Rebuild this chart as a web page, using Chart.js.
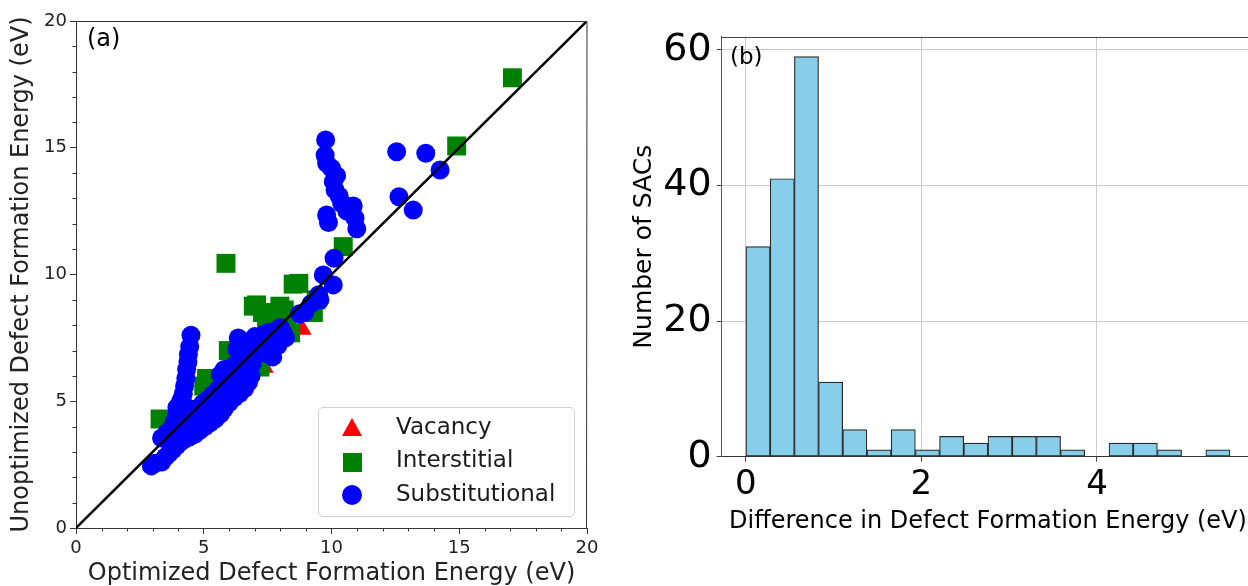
<!DOCTYPE html>
<html>
<head>
<meta charset="utf-8">
<script src="https://cdn.jsdelivr.net/npm/chart.js@4.4.1/dist/chart.umd.min.js"></script>
<style>
	html, body { margin: 0; padding: 0; background: #fff; overflow: hidden; width: 1248px; height: 586px; }
	#contenidor { position: relative; width: 1248px; height: 586px; overflow: hidden; }
	#graficA { position: absolute; left: 0; top: 0; }
	#graficB { position: absolute; left: 620px; top: 0; }
	.etiqueta { position: absolute; font-family: "DejaVu Sans", sans-serif; color: #000; line-height: 1; white-space: nowrap; }
	#llegenda { position: absolute; left: 318px; top: 407px; width: 257px; height: 110px; box-sizing: border-box;
		border: 1px solid #d0d0d0; border-radius: 5px; background: rgba(255,255,255,0.85);
		font-family: "DejaVu Sans", sans-serif; font-size: 23px; color: #1a1a1a; }
	#llegenda .text { position: absolute; left: 77px; line-height: 28px; height: 28px; white-space: nowrap; }
	#llegenda .marca { position: absolute; }
	.tri { width: 0; height: 0; border-left: 10px solid transparent; border-right: 10px solid transparent; border-bottom: 18px solid #ff0000; }
	.qua { width: 19px; height: 19px; background: #008000; }
	.cer { width: 20px; height: 20px; border-radius: 50%; background: #0000ff; }
</style>
</head>
<body>
<div id="contenidor">
	<canvas id="graficA" width="620" height="586"></canvas>
	<canvas id="graficB" width="660" height="586"></canvas>
	<div class="etiqueta" style="left:87px; top:26px; font-size:24px;">(a)</div>
	<div class="etiqueta" style="left:730px; top:45px; font-size:23px;">(b)</div>
	<div id="llegenda">
		<div class="marca tri" style="left:23px; top:10px;"></div>
		<div class="text" style="top:4px;">Vacancy</div>
		<div class="marca qua" style="left:24px; top:45px;"></div>
		<div class="text" style="top:37px;">Interstitial</div>
		<div class="marca cer" style="left:23px; top:77px;"></div>
		<div class="text" style="top:71px;">Substitutional</div>
	</div>
</div>
<script>
// Dades del gràfic (a): punts [optimitzada, no optimitzada] en eV
let vacants = [[8.83, 7.85], [7.35, 6.35], [6.6, 6.2], [5.6, 5.3]];

let intersticials = [
	[3.29, 4.3], [5.11, 5.9], [5.96, 7.0], [6.16, 6.9], [7.2, 6.35], [6.94, 8.75], [7.07, 8.8], [7.3, 8.5],
	[7.46, 8.3], [7.7, 8.35], [7.98, 8.75], [8.15, 8.6], [8.24, 7.95], [8.4, 7.7], [9.29, 8.5], [9.4, 9.0],
	[8.5, 9.62], [8.72, 9.65], [10.46, 11.1], [5.87, 10.44], [14.9, 15.07], [17.08, 17.76], [5.0, 5.6], [6.4, 6.6]
];

let substitucionals = [
	// banda per sota de la diagonal
	[2.95, 2.45], [3.1, 2.55], [3.35, 2.6], [3.5, 2.8], [3.65, 2.95], [3.8, 3.1], [3.95, 3.25], [4.1, 3.4],
	[4.25, 3.5], [4.45, 3.6], [4.65, 3.7], [4.85, 3.85], [5.05, 4.0], [5.25, 4.15], [5.45, 4.3], [5.65, 4.5],
	[5.8, 4.7], [6.0, 4.95], [6.2, 5.15], [6.4, 5.3], [6.6, 5.5], [6.75, 5.75], [6.85, 6.0],
	// banda per sobre
	[3.35, 3.55], [3.55, 3.75], [3.75, 3.95], [3.85, 4.2], [3.95, 4.45], [3.95, 4.75], [4.1, 5.0], [4.35, 4.75],
	[4.55, 4.6], [4.75, 4.7], [4.95, 4.9], [5.15, 5.05], [5.35, 5.25], [5.55, 5.45], [5.75, 5.6], [5.9, 5.8],
	[5.65, 6.05], [5.8, 6.25], [6.05, 6.3], [6.25, 6.45], [6.45, 6.65], [6.55, 6.85], [6.3, 7.05], [6.4, 7.25], [6.35, 7.5],
	// mig
	[4.2, 4.1], [4.4, 4.2], [4.6, 4.25], [4.85, 4.4], [5.05, 4.55], [5.3, 4.7], [5.5, 4.9], [5.7, 5.05],
	[5.9, 5.25], [6.1, 5.5], [6.3, 5.75], [6.5, 6.0], [6.65, 6.3],
	// columna vertical
	[4.5, 7.6], [4.45, 7.15], [4.4, 6.85], [4.38, 6.55], [4.33, 6.25], [4.3, 5.9], [4.25, 5.6], [4.2, 5.3], [4.15, 5.1],
	// grup de dalt a la dreta
	[6.9, 6.5], [7.05, 6.95], [7.2, 7.3], [7.3, 7.6], [7.5, 7.7], [7.7, 7.55], [7.85, 7.8], [8.1, 7.7],
	[7.4, 6.9], [7.7, 6.75], [7.9, 7.2], [8.2, 7.5], [6.8, 7.3], [7.0, 7.55], [7.6, 7.35], [8.0, 7.9],
	[8.75, 8.45], [8.95, 8.5], [9.2, 8.85], [9.55, 9.0], [9.5, 9.2], [10.07, 9.59], [9.68, 9.98], [10.1, 10.64],
	// valors alts
	[9.77, 15.31], [9.75, 14.71], [9.81, 14.39], [10.0, 14.19], [10.07, 13.66], [10.14, 13.33], [10.3, 13.1],
	[10.85, 12.7], [9.81, 12.35], [9.88, 12.05], [10.92, 12.22], [10.99, 11.8], [10.4, 12.8], [10.6, 12.5], [10.2, 13.9],
	[12.55, 14.84], [13.69, 14.78], [14.25, 14.12], [12.64, 13.07], [13.2, 12.54]
];

// Línia y = x
let diagonalX = [0, 20];
let diagonalY = [0, 20];

// Dades del gràfic (b): histograma
let centresBins = [0.138, 0.414, 0.690, 0.965, 1.241, 1.517, 1.793, 2.069, 2.344, 2.620,
	2.896, 3.172, 3.448, 3.723, 3.999, 4.275, 4.551, 4.827, 5.102, 5.378];
let comptesBins = [31, 41, 59, 11, 4, 1, 4, 1, 3, 2, 3, 3, 3, 1, 0, 2, 2, 1, 0, 1];

let ticsA = [0, 5, 10, 15, 20];
let ticsBx = [0, 2, 4];
let ticsBy = [0, 20, 40, 60];

const FONT = '"DejaVu Sans", sans-serif';

function aPunts(llista) {
	return llista.map(p => ({ x: p[0], y: p[1] }));
}

// Marc del gràfic (costats de dalt i dreta)
const marc = {
	id: 'marc',
	afterDraw(chart, args, opts) {
		const { ctx, chartArea: a } = chart;
		ctx.save();
		ctx.strokeStyle = opts.color;
		ctx.lineWidth = 1;
		ctx.beginPath();
		ctx.moveTo(Math.round(a.left), Math.round(a.top) + 0.5);
		ctx.lineTo(Math.round(a.right), Math.round(a.top) + 0.5);
		ctx.lineTo(Math.round(a.right) - 0.5, Math.round(a.bottom));
		ctx.stroke();
		ctx.restore();
	}
};

// Tics menors del gràfic (a)
const ticsMenors = {
	id: 'ticsMenors',
	afterDraw(chart) {
		const { ctx, chartArea: a, scales } = chart;
		ctx.save();
		ctx.strokeStyle = '#333';
		ctx.lineWidth = 1;
		for (let v = 1; v < 20; v++) {
			if (v % 5 == 0) continue;
			let px = Math.round(scales.x.getPixelForValue(v)) + 0.5;
			ctx.beginPath();
			ctx.moveTo(px, a.bottom);
			ctx.lineTo(px, a.bottom + 3.5);
			ctx.stroke();
			let py = Math.round(scales.y.getPixelForValue(v)) + 0.5;
			ctx.beginPath();
			ctx.moveTo(a.left, py);
			ctx.lineTo(a.left - 3.5, py);
			ctx.stroke();
		}
		ctx.restore();
	}
};

// GRÀFIC (a)
new Chart(document.getElementById('graficA'), {
	type: 'scatter',
	data: {
		datasets: [
			{
				label: 'y=x',
				data: diagonalX.map((x, i) => ({ x: x, y: diagonalY[i] })),
				showLine: true,
				borderColor: '#000',
				borderWidth: 2.5,
				pointRadius: 0,
				order: 0
			},
			{
				label: 'Substitutional',
				data: aPunts(substitucionals),
				pointStyle: 'circle',
				pointRadius: 9.5,
				backgroundColor: '#0000ff',
				borderWidth: 0,
				order: 1
			},
			{
				label: 'Interstitial',
				data: aPunts(intersticials),
				pointStyle: 'rect',
				pointRadius: 13.4,
				backgroundColor: '#008000',
				borderWidth: 0,
				order: 2
			},
			{
				label: 'Vacancy',
				data: aPunts(vacants),
				pointStyle: 'triangle',
				pointRadius: 11.5,
				backgroundColor: '#ff0000',
				borderWidth: 0,
				order: 3
			}
		]
	},
	options: {
		responsive: false,
		animation: false,
		events: [],
		devicePixelRatio: 1,
		layout: { padding: { left: 0, right: 33, top: 21, bottom: 0 } },
		plugins: {
			legend: { display: false },
			tooltip: { enabled: false },
			marc: { color: '#333' }
		},
		scales: {
			x: {
				type: 'linear', min: 0, max: 20,
				afterBuildTicks: s => { s.ticks = ticsA.map(v => ({ value: v })); },
				afterFit: s => { s.height = 58; },
				ticks: { font: { family: FONT, size: 18 }, color: '#222', padding: 4, maxRotation: 0, autoSkip: false },
				grid: { drawOnChartArea: false, tickLength: 6, tickColor: '#333' },
				border: { color: '#333', width: 1 },
				title: { display: true, text: 'Optimized Defect Formation Energy (eV)', font: { family: FONT, size: 24 }, color: '#222', padding: { top: 0, bottom: -2 } }
			},
			y: {
				type: 'linear', min: 0, max: 20,
				afterBuildTicks: s => { s.ticks = ticsA.map(v => ({ value: v })); },
				afterFit: s => { s.width = 76; },
				ticks: { font: { family: FONT, size: 18 }, color: '#222', padding: 3, autoSkip: false },
				grid: { drawOnChartArea: false, tickLength: 6, tickColor: '#333' },
				border: { color: '#333', width: 1 },
				title: { display: true, text: 'Unoptimized Defect Formation Energy (eV)', font: { family: FONT, size: 24 }, color: '#222', padding: { top: 7.8, bottom: 0 } }
			}
		}
	},
	plugins: [marc, ticsMenors]
});

// GRÀFIC (b)
new Chart(document.getElementById('graficB'), {
	type: 'bar',
	data: {
		datasets: [{
			label: 'SACs',
			data: centresBins.map((c, i) => ({ x: c, y: comptesBins[i] })),
			backgroundColor: '#87ceeb',
			borderColor: '#2a2a2a',
			borderWidth: 1.2,
			borderSkipped: false,
			barPercentage: 1,
			categoryPercentage: 1
		}]
	},
	options: {
		responsive: false,
		animation: false,
		events: [],
		devicePixelRatio: 1,
		layout: { padding: { left: 0, right: 25.8, top: 36.7, bottom: 0 } },
		plugins: {
			legend: { display: false },
			tooltip: { enabled: false },
			marc: { color: '#444' }
		},
		scales: {
			x: {
				type: 'linear', min: -0.276, max: 5.792, offset: false, z: 1,
				afterBuildTicks: s => { s.ticks = ticsBx.map(v => ({ value: v })); },
				afterFit: s => { s.height = 129.3; },
				ticks: { font: { family: FONT, size: 34 }, color: '#000', padding: 3, maxRotation: 0, autoSkip: false },
				grid: { offset: false, color: '#cbcbcb', lineWidth: 1, tickLength: 5, tickColor: '#444' },
				border: { color: '#333', width: 1 },
				title: { display: true, text: 'Difference in Defect Formation Energy (eV)', font: { family: FONT, size: 24 }, color: '#000', padding: { top: 0, bottom: 49.4 } }
			},
			y: {
				type: 'linear', min: 0, max: 61.95, z: 1,
				afterBuildTicks: s => { s.ticks = ticsBy.map(v => ({ value: v })); },
				afterFit: s => { s.width = 101.7; },
				ticks: { font: { family: FONT, size: 38 }, color: '#000', padding: 5, autoSkip: false },
				grid: { color: '#cbcbcb', lineWidth: 1, tickLength: 5, tickColor: '#444' },
				border: { color: '#555', width: 1 },
				title: { display: true, text: 'Number of SACs', font: { family: FONT, size: 25 }, color: '#000', padding: { top: 9.3, bottom: 0 } }
			}
		}
	},
	plugins: [marc]
});
</script>
</body>
</html>
